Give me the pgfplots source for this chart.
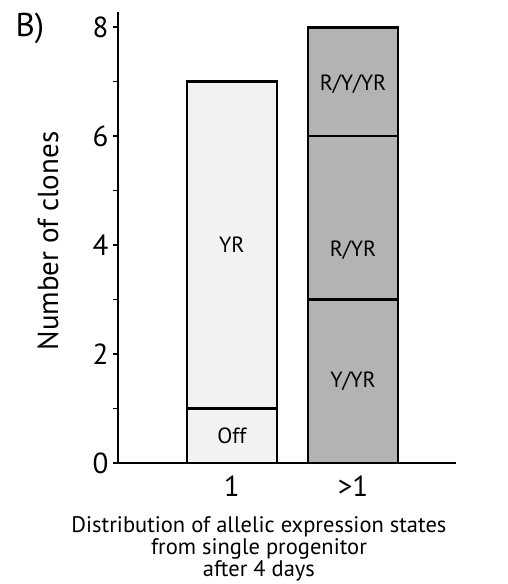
\documentclass[border=0pt]{standalone}
\usepackage{pgfplots}
\pgfplotsset{compat=1.18}
\usepackage{fontspec}
\setmainfont{PT Sans}
\definecolor{lightbar}{HTML}{F2F2F2}
\definecolor{darkbar}{HTML}{B3B3B3}
\begin{document}
\begin{tikzpicture}
\path[use as bounding box] (-118pt,-121pt) rectangle (389pt,463pt);
\begin{axis}[
  at={(0,0)}, anchor=south west,
  scale only axis, width=338pt, height=451pt,
  ybar stacked, bar width=90pt,
  xmin=0.06, xmax=2.85, ymin=0, ymax=8.28,
  axis x line=bottom, axis y line=left,
  axis line style={-, line width=2.4pt},
  xtick={1,2}, xticklabels={1,{>1}},
  ytick={0,2,4,6,8}, minor ytick={1,3,5,7},
  x tick style={draw=none},
  y tick style={line width=1.5pt, black},
  tick align=outside,
  major tick length=5pt, minor tick length=5pt,
  /pgf/number format/assume math mode=true,
  ticklabel style={font=\fontsize{29}{29}\selectfont},
  xticklabel style={yshift=-4pt},
  yticklabel style={xshift=-1pt},
  ylabel={Number of clones},
  ylabel style={font=\fontsize{29}{29}\selectfont, at={(axis description cs:-0.207,0.492)}, anchor=center},
  xlabel={Distribution of allelic expression states\\from single progenitor\\after 4 days},
  xlabel style={font=\fontsize{22.5}{20}\selectfont, align=center, at={(axis description cs:0.417,-0.112)}, anchor=north},
  clip=false,
]
\addplot[fill=lightbar, draw=black, line width=2.6pt] coordinates {(1,1) (2,0)};
\addplot[fill=lightbar, draw=black, line width=2.6pt] coordinates {(1,6) (2,0)};
\addplot[fill=darkbar, draw=black, line width=2.6pt] coordinates {(1,0) (2,3)};
\addplot[fill=darkbar, draw=black, line width=2.6pt] coordinates {(1,0) (2,3)};
\addplot[fill=darkbar, draw=black, line width=2.6pt] coordinates {(1,0) (2,2)};
\coordinate (lOff) at (axis cs:1,0.5);
\coordinate (lYR) at (axis cs:1,4);
\coordinate (lYYR) at (axis cs:2,1.5);
\coordinate (lRYR) at (axis cs:2,3.9);
\coordinate (lRYYR) at (axis cs:2,6.95);
\end{axis}
\begin{scope}[every node/.style={font=\fontsize{22}{22}\selectfont}]
\node at (lOff) {Off};
\node at (lYR) {YR};
\node at (lYYR) {Y/YR};
\node at (lRYR) {R/YR};
\node at (lRYYR) {R/Y/YR};
\end{scope}
\node[anchor=base west, font=\fontsize{33}{33}\selectfont] at (-106pt,426pt) {B)};
\end{tikzpicture}
\end{document}
